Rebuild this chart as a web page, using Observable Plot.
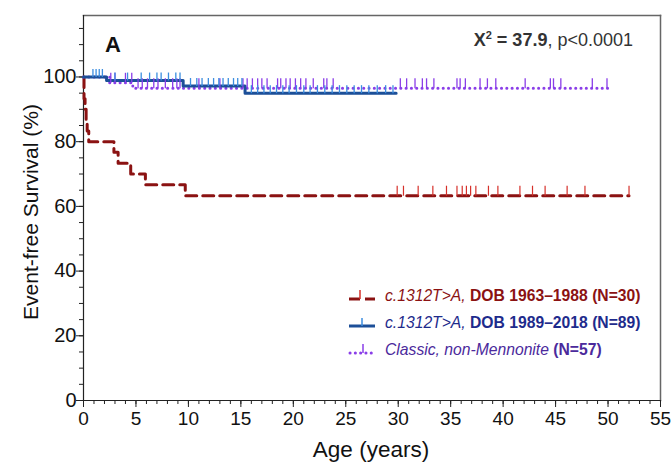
<!DOCTYPE html>
<html><head><meta charset="utf-8">
<script src="https://cdn.jsdelivr.net/npm/d3@7"></script>
<script src="https://cdn.jsdelivr.net/npm/@observablehq/plot@0.6"></script>
<style>
html,body{margin:0;padding:0;background:#fff;}
#wrap{position:relative;width:672px;height:465px;font-family:"Liberation Sans",Arial,Helvetica,sans-serif;}
.ov{position:absolute;white-space:nowrap;}
.leg{position:absolute;left:348px;font-size:15.7px;display:flex;align-items:center;height:20px;}
.leg svg{margin-right:9px;}
</style></head>
<body>
<div id="wrap"></div>
<script>
// Step curves (time in years, survival %)
const redTimes   = [0, 0.05, 0.15, 0.25, 0.35, 0.5, 2.9, 3.3, 4.5, 5.9, 9.7, 52];
const redSurv    = [100, 93.3, 90, 86.7, 83.3, 80, 76.7, 73.3, 70, 66.7, 63.3, 63.3];
const blueTimes  = [0, 2.2, 9.5, 15.4, 29.8];
const blueSurv   = [100, 98.9, 97.2, 95.0, 95.0];
const purpTimes  = [0, 2.5, 4.7, 50];
const purpSurv   = [100, 98.2, 96.5, 96.5];
// Censoring times
const redCens  = [29.9, 30.5, 31.9, 33.3, 34.6, 35.6, 36.1, 36.5, 36.9, 37.4, 38.6, 39.5, 41.6, 42.8, 44.0, 46.1, 47.8, 52.0];
const blueCens = [0.9, 1.2, 1.5, 1.8, 3.0, 4.2, 5.5, 6.3, 7.0, 7.4, 8.1, 8.8, 9.2, 10.2, 10.8, 11.3, 11.9, 12.4, 12.9, 13.3, 13.8, 14.3, 14.7, 15.1, 16.0, 16.6, 17.2, 17.8, 18.4, 19.0, 19.6, 20.3, 21.0, 21.6, 22.3, 23.0, 23.7, 24.4, 25.1, 25.8, 26.5, 27.2, 28.0, 28.8, 29.5];
const purpCens = [2.6, 3.0, 4.0, 4.6, 5.2, 5.6, 6.1, 6.7, 7.1, 7.8, 8.5, 8.9, 9.2, 11.0, 13.0, 15.2, 15.6, 16.1, 16.6, 17.0, 17.5, 18.5, 18.8, 19.3, 19.7, 20.2, 20.7, 21.2, 21.9, 22.9, 23.2, 23.8, 30.2, 30.8, 31.6, 32.3, 32.7, 33.4, 35.6, 35.9, 36.4, 37.8, 38.5, 39.3, 42.1, 44.5, 44.8, 45.5, 48.5, 49.9];
const xMajorTicks = [0,5,10,15,20,25,30,35,40,45,50,55];
const yMajorTicks = [0,20,40,60,80,100];

const curve = (ts, ss) => ts.map((t,i)=>({t, s: ss[i]}));
const lookup = (ts, ss) => t => { let v = ss[0]; for (let i=0;i<ts.length;i++) if (ts[i] <= t) v = ss[i]; return v; };
const cens = (cs, ts, ss) => { const f = lookup(ts, ss); return cs.map(t => ({t, s: f(t)})); };

const tickSym = len => ({draw(ctx){ ctx.moveTo(0,0); ctx.lineTo(0,-len); }});

const RED="#8b1212", REDT="#d6302a", BLUE="#1c4f98", BLUET="#3c8ee0", PURP="#8a3ee8";

const chart = Plot.plot({
  width: 672, height: 465,
  marginLeft: 83, marginRight: 12, marginTop: 15, marginBottom: 65,
  style: {fontFamily: '"Liberation Sans", Arial, Helvetica, sans-serif', fontSize: "18px", color: "#111", background: "#fff"},
  x: {domain: [0, 55], label: null},
  y: {domain: [0, 119], label: null},
  marks: [
    Plot.frame({anchor: "top", stroke: "#666", strokeWidth: 1.5}),
    Plot.frame({anchor: "right", stroke: "#666", strokeWidth: 1.5}),
    Plot.axisX({ticks: d3.range(0, 56, 1), tickSize: 4, tickFormat: () => "", stroke: "#222"}),
    Plot.axisX({ticks: xMajorTicks, tickSize: 7, tickPadding: 4, stroke: "#222", fontSize: 19}),
    Plot.axisY({ticks: d3.range(0, 116, 5), tickSize: 4, tickFormat: () => "", stroke: "#222"}),
    Plot.axisY({ticks: yMajorTicks, tickSize: 7, tickPadding: 0, stroke: "#222", fontSize: 20}),
    Plot.frame({anchor: "left", stroke: "#222", strokeWidth: 1.2}),
    Plot.frame({anchor: "bottom", stroke: "#222", strokeWidth: 1.2}),
    Plot.line(curve(redTimes, redSurv), {x: "t", y: "s", curve: "step-after", stroke: RED, strokeWidth: 3, strokeDasharray: "11,6"}),
    Plot.line(curve(purpTimes, purpSurv), {x: "t", y: "s", curve: "step-after", stroke: PURP, strokeWidth: 3, strokeDasharray: "0.1,5.2", strokeLinecap: "round"}),
    Plot.line(curve(blueTimes, blueSurv), {x: "t", y: "s", curve: "step-after", stroke: BLUE, strokeWidth: 3}),
    Plot.dot(cens(redCens, redTimes, redSurv), {x: "t", y: "s", symbol: tickSym(10), stroke: REDT, strokeWidth: 1.2, fill: "none"}),
    Plot.dot(cens(purpCens, purpTimes, purpSurv), {x: "t", y: "s", symbol: tickSym(10), stroke: PURP, strokeWidth: 1.3, fill: "none"}),
    Plot.dot(cens(blueCens, blueTimes, blueSurv), {x: "t", y: "s", symbol: tickSym(8), stroke: BLUET, strokeWidth: 1.3, fill: "none"})
  ]
});

const wrap = document.getElementById("wrap");
wrap.appendChild(chart);

function ov(html, style){ const d=document.createElement("div"); d.className="ov"; d.innerHTML=html; Object.assign(d.style, style); wrap.appendChild(d); return d; }

ov("A", {left:"105px", top:"32px", fontSize:"22px", fontWeight:"bold", color:"#111"});
ov('<b>X<sup style="font-size:11px;vertical-align:7px;line-height:0">2</sup> = 37.9</b>, p&lt;0.0001', {right:"39px", top:"30px", fontSize:"18px", color:"#333"});
ov("Age (years)", {left:"371px", top:"437px", transform:"translateX(-50%)", fontSize:"22.5px", color:"#111"});
ov("Event-free Survival (%)", {left:"31px", top:"212px", transform:"translate(-50%,-50%) rotate(-90deg)", fontSize:"21px", color:"#111"});

function legRow(top, icon, html){
  const d=document.createElement("div"); d.className="leg"; d.style.top=top+"px";
  d.innerHTML = icon + "<span>"+html+"</span>"; wrap.appendChild(d);
}
legRow(286, `<svg width="28" height="14"><line x1="1" y1="10" x2="12" y2="10" stroke="${RED}" stroke-width="3"/><line x1="17" y1="10" x2="27" y2="10" stroke="${RED}" stroke-width="3"/><line x1="12" y1="10" x2="12" y2="1" stroke="${REDT}" stroke-width="1.5"/></svg>`,
  `<span style="color:${RED};font-style:italic">c.1312T&gt;A,</span> <b style="color:${RED}">DOB 1963–1988 (N=30)</b>`);
legRow(313, `<svg width="28" height="14"><line x1="1" y1="10" x2="27" y2="10" stroke="${BLUE}" stroke-width="3"/><line x1="14" y1="10" x2="14" y2="2" stroke="${BLUET}" stroke-width="1.5"/></svg>`,
  `<span style="color:#1e2b8c;font-style:italic">c.1312T&gt;A,</span> <b style="color:#1e2b8c">DOB 1989–2018 (N=89)</b>`);
legRow(340, `<svg width="28" height="14"><line x1="2" y1="10" x2="27" y2="10" stroke="${PURP}" stroke-width="3" stroke-dasharray="0.1,5.2" stroke-linecap="round"/><line x1="15" y1="10" x2="15" y2="1" stroke="${PURP}" stroke-width="1.5"/></svg>`,
  `<span style="color:#4b2a9c;font-style:italic">Classic, non-Mennonite</span> <b style="color:#4b2a9c">(N=57)</b>`);
</script>
</body></html>
